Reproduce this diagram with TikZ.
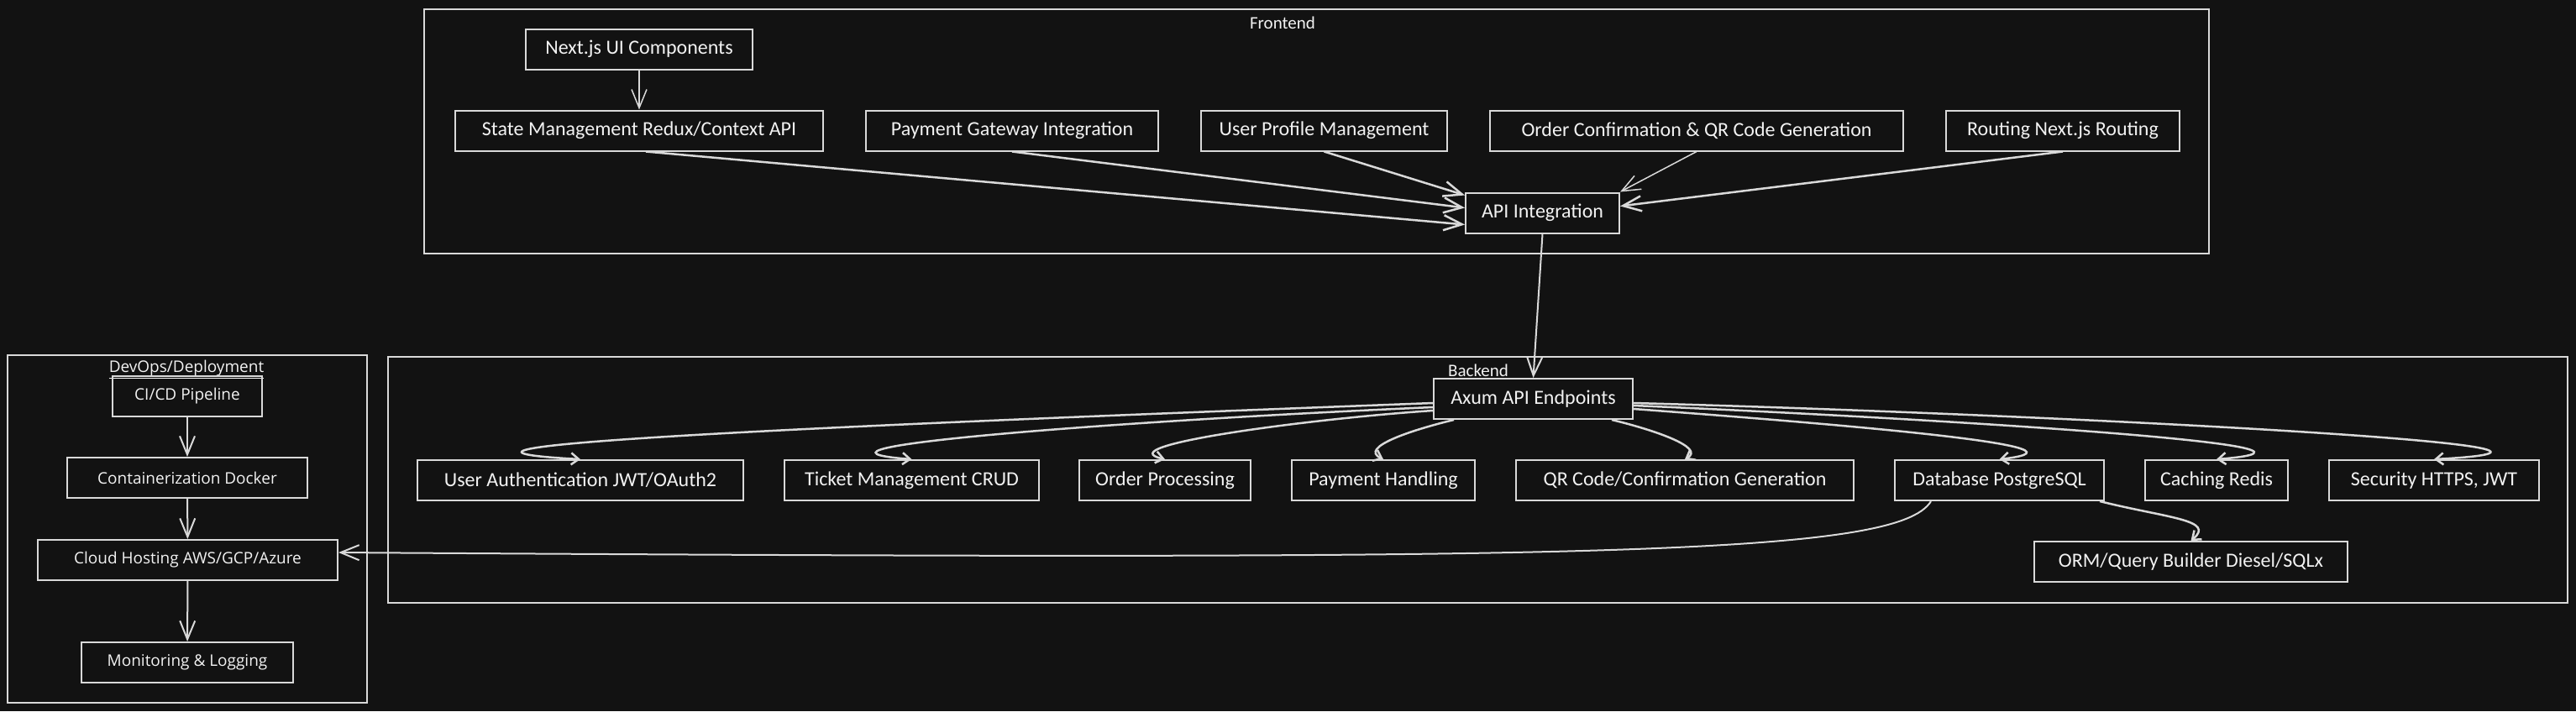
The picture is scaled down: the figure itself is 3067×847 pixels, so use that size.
\documentclass[tikz,border=0pt]{standalone}
\usepackage{fontspec}
\setmainfont{Carlito}
\newfontfamily\devfont{Open Sans}
\usetikzlibrary{arrows.meta}
\definecolor{bg}{HTML}{121212}
\definecolor{fg}{HTML}{D9D9D9}
\definecolor{txt}{HTML}{F2F2F2}
\begin{document}
\begin{tikzpicture}[x=1pt, y=-1pt,
  box/.style={draw=fg, line width=2pt, minimum height=48, inner sep=0pt, text=txt, font=\fontsize{24}{28}\selectfont},
  dbox/.style={box, font=\devfont\fontsize{19}{23}\selectfont},
  grp/.style={draw=fg, line width=2pt},
  lbl/.style={inner sep=0pt, text=txt, font=\fontsize{21}{25}\selectfont},
  big/.style={draw=fg, line width=2.5pt, -{Straight Barb[length=22pt,width=18pt]}},
  small/.style={draw=fg, line width=2.5pt, -{Straight Barb[length=9pt,width=14pt]}}]
\fill[bg] (0,0) rectangle (3067,847);
\useasboundingbox (0,0) rectangle (3067,847);
\draw[grp] (505,11) rectangle (2630,302);
\node[lbl] (fe) at (1527,27) {Frontend};
\node[box, minimum width=270] (fe0) at (761,58.5) {Next.js UI Components};
\node[box, minimum width=438] (fe1) at (761,155.5) {State Management Redux/Context API};
\node[box, minimum width=348] (fe2) at (1205,155.5) {Payment Gateway Integration};
\node[box, minimum width=293] (fe3) at (1576.5,155.5) {User Profile Management};
\node[box, minimum width=492] (fe4) at (2020,155.5) {Order Confirmation \& QR Code Generation};
\node[box, minimum width=278] (fe5) at (2456,155.5) {Routing Next.js Routing};
\node[box, minimum width=183] (fe6) at (1836.5,253.5) {API Integration};
\draw[big, line width=1.5pt](fe0) -- (fe1);
\draw[big]([xshift=8]fe1.south) -- ([yshift=-14]fe6.west);
\draw[big](fe2.south) -- ([yshift=6]fe6.west);
\draw[big](fe3.south) -- ([yshift=21]fe6.west);
\draw[big, line width=1.5pt](fe4.south) -- (fe6.north east);
\draw[big](fe5.south) -- ([yshift=8]fe6.east);
\draw[grp] (462,425) rectangle (3057,718);
\node[lbl] (be) at (1760,441) {Backend};
\node[box, minimum width=237] (be0) at (1825.5,475) {Axum API Endpoints};
\node[box, minimum width=388] (be1) at (691,572) {User Authentication JWT/OAuth2};
\node[box, minimum width=303] (be2) at (1085.5,572) {Ticket Management CRUD};
\node[box, minimum width=204] (be3) at (1387,572) {Order Processing};
\node[box, minimum width=218] (be4) at (1647,572) {Payment Handling};
\node[box, minimum width=402] (be5) at (2006,572) {QR Code/Confirmation Generation};
\node[box, minimum width=249] (be6) at (2380.5,572) {Database PostgreSQL};
\node[box, minimum width=170] (be7) at (2639,572) {Caching Redis};
\node[box, minimum width=250] (be8) at (2898,572) {Security HTTPS, JWT};
\node[box, minimum width=373] (be9) at (2608.5,669) {ORM/Query Builder Diesel/SQLx};
\draw[big, line width=2pt](fe6.south) -- (be0.north);
\draw[small]([yshift=-5]be0.west) .. controls +(-607,23) and +(-291,-16) .. (be1.north);
\draw[small]([yshift=-10]be0.west) .. controls +(-350,15) and +(-180,-14) .. (be2.north);
\draw[small]([yshift=-14]be0.west) .. controls +(-150,10) and +(-70,-16) .. (be3.north);
\draw[small]([xshift=25]be0.south west) .. controls +(-50,12) and +(-30,-14) .. (be4.north);
\draw[small]([xshift=-26]be0.south east) .. controls +(50,12) and +(25,-14) .. (be5.north);
\draw[small]([yshift=-12]be0.east) .. controls +(200,15) and +(140,-16) .. (be6.north);
\draw[small]([yshift=-8]be0.east) .. controls +(350,15) and +(200,-16) .. (be7.north);
\draw[small]([yshift=-5]be0.east) .. controls +(450,12) and +(300,-16) .. (be8.north);
\draw[small]([xshift=-6]be6.south east) .. controls +(80,20) and +(30,-25) .. (be9.north);
\draw[grp] (9,423) rectangle (437,837);
\node[lbl, font=\devfont\fontsize{19}{23}\selectfont] (dv) at (222,440) {\underline{DevOps/Deployment}};
\node[dbox, minimum width=178] (dv0) at (223,472) {CI/CD Pipeline};
\node[dbox, minimum width=286] (dv1) at (223,569) {Containerization Docker};
\node[dbox, minimum width=357] (dv2) at (223.5,667) {Cloud Hosting AWS/GCP/Azure};
\node[dbox, minimum width=252] (dv3) at (223,789) {Monitoring \& Logging};
\draw[big, line width=2pt](dv0) -- (dv1);
\draw[big, line width=2pt](dv1) -- (dv2);
\draw[big, line width=2pt](dv2) -- (dv3);
\draw[big, line width=2pt]([xshift=44]be6.south west) .. controls +(-40,65) and +(1495,10) .. ([yshift=9]dv2.east);
\end{tikzpicture}
\end{document}
